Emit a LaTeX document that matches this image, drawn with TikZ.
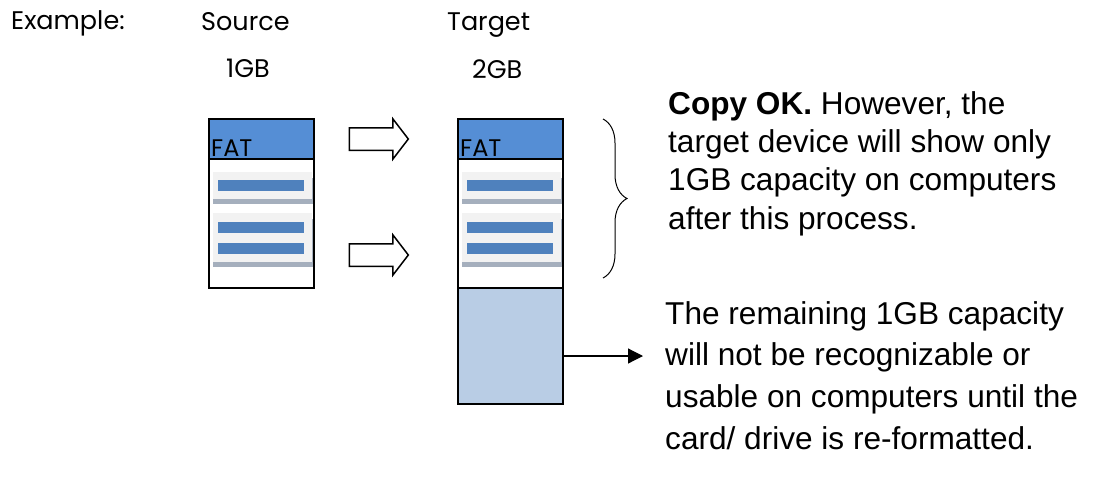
\documentclass[tikz,border=0pt]{standalone}
\usepackage{fontspec}
\setmainfont{Liberation Sans}
\newfontfamily\gothic{Poppins}
\usetikzlibrary{shapes.arrows,arrows.meta,positioning,decorations.pathreplacing}
\definecolor{fatblue}   {HTML}{558ED5}
\definecolor{barblue}   {HTML}{4F81BD}
\definecolor{panelgray} {HTML}{F2F2F2}
\definecolor{shadowgray}{HTML}{A5AFBD}
\definecolor{freeblue}  {HTML}{B9CDE5}

\begin{document}
\begin{tikzpicture}[x=1pt,y=-1pt,
        lbl/.style={font=\gothic\fontsize{25.5}{30}\selectfont,
                    anchor=base west,inner sep=0pt},
        fatlbl/.style={font=\gothic\fontsize{24}{28}\selectfont,
                    anchor=base west,inner sep=0pt},
        disk/.style={draw=black,line width=1.8pt,
                    minimum width=105pt,inner sep=0pt},
        hdr/.style={disk,fill=fatblue,minimum height=40pt},
        body/.style={disk,fill=white,minimum height=129pt},
        free/.style={disk,fill=freeblue,minimum height=116pt},
        bar/.style={fill=barblue,minimum width=86pt,
                    minimum height=11pt,inner sep=0pt},
        blockarr/.style={single arrow,draw=black,fill=white,
                    line width=1.5pt,minimum height=59pt,
                    inner xsep=0pt,inner ysep=10.5pt,
                    single arrow head extend=9pt,
                    single arrow tip angle=105},
        note/.style={font=\fontsize{31.6}{38.4}\selectfont,
                    anchor=base west,inner sep=0pt,align=left},
        arr/.style={-{Triangle[length=15pt,width=15pt]},line width=1.2pt}]
  \useasboundingbox (0,0) rectangle (1100,477);

  % headings
  \node[lbl] (exlbl)   at (11,29)  {Example:};
  \node[lbl] (srclbl)  at (201,30) {Source};
  \node[lbl] (tgtlbl)  at (447,30) {Target};
  \node[lbl] (srcsize) at (226,77) {1GB};
  \node[lbl] (tgtsize) at (472,78) {2GB};

  % the two disks
  \foreach \dx/\nm in {0/s,249/t} {
    \node[body] (\nm-body) at (261.5+\dx,223.5) {};
    % file panels
    \fill[panelgray]  (213+\dx,172) rectangle (312+\dx,200);
    \fill[shadowgray] (213+\dx,199) rectangle (312+\dx,204);
    \draw[shadowgray,line width=1pt] (312+\dx,178) -- (312+\dx,204);
    \fill[panelgray]  (213+\dx,213) rectangle (312+\dx,263);
    \fill[shadowgray] (213+\dx,262) rectangle (312+\dx,267);
    \draw[shadowgray,line width=1pt] (312+\dx,219) -- (312+\dx,267);
    \node[bar] (\nm-bar1) at (261+\dx,185.5) {};
    \node[bar] (\nm-bar2) at (261+\dx,227) {};
    \node[bar] (\nm-bar3) at (261+\dx,248) {};
    \node[hdr] (\nm-head) at (261.5+\dx,139) {};
    \node[fatlbl] (\nm-fat) at (211+\dx,156) {FAT};
  }
  \node[free] (t-free) at (510.5,346) {};

  % copy arrows
  \node[blockarr] (copy1) at (374.5,139) {};
  \node[blockarr] (copy2) at (374.5,255) {};

  % brace and notes
  \draw[line width=1pt,decorate,
        decoration={brace,amplitude=24pt,aspect=0.5}]
        (603,119) -- (603,278);
  \node[note] (oknote) at (668,229.3)
        {\textbf{Copy OK.} However, the\\
         target device will show only\\
         1GB capacity on computers\\
         after this process.};
  \node[note,font=\fontsize{31.6}{41.7}\selectfont] (freenote) at (665,449.3)
        {The remaining 1GB capacity\\
         will not be recognizable or\\
         usable on computers until the\\
         card/ drive is re-formatted.};

  \coordinate (tip) at (643,356);
  \draw[arr] (t-free.east |- tip) -- (tip);
\end{tikzpicture}
\end{document}
